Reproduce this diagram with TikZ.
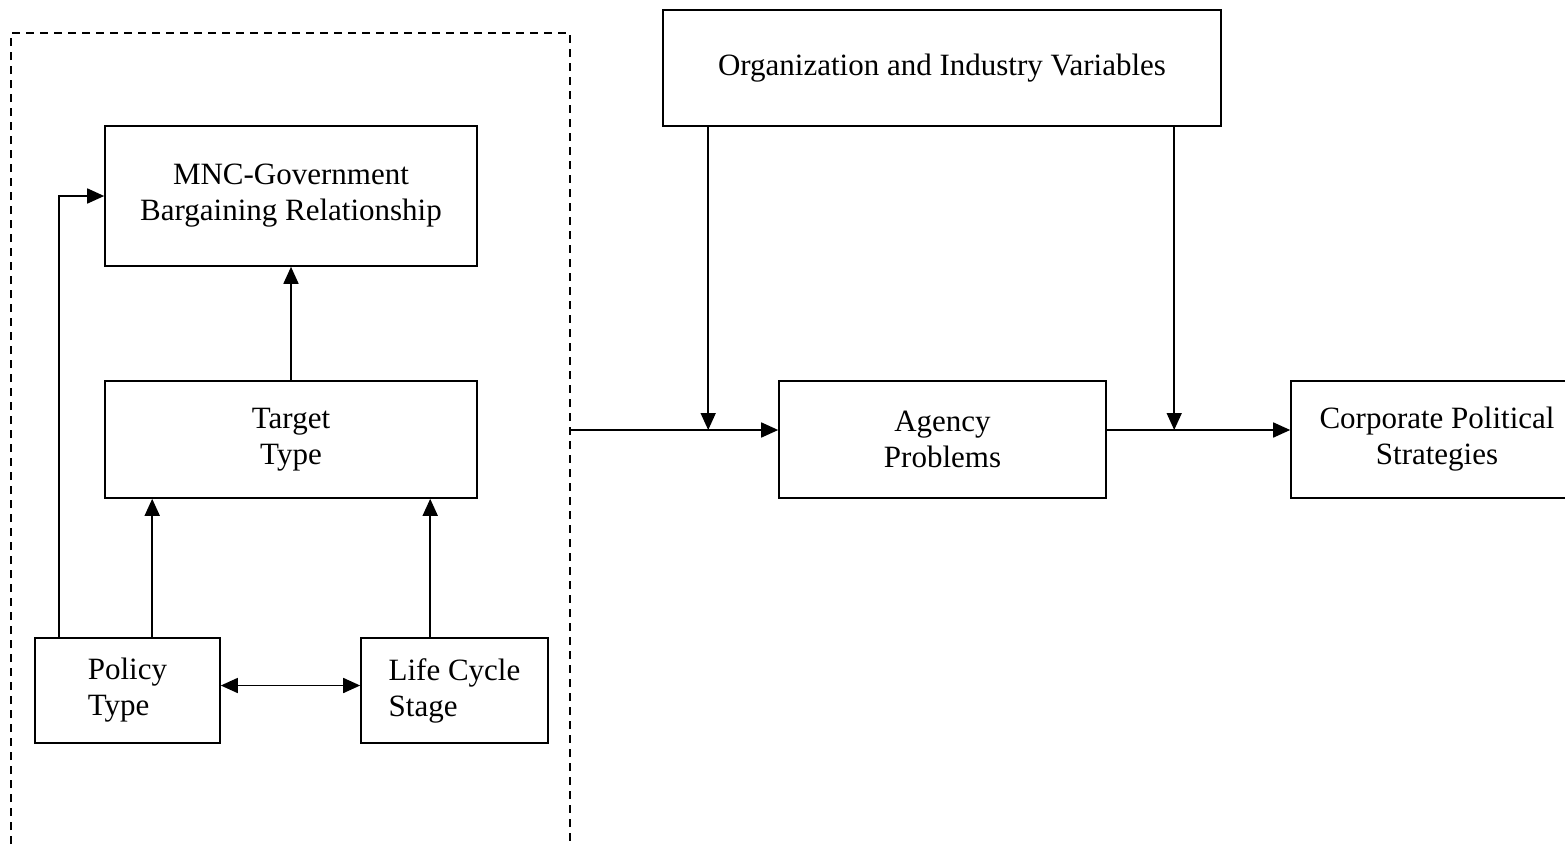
\documentclass[tikz,border=0pt]{standalone}
\usepackage{fontspec}
\setmainfont{Liberation Serif}
\usetikzlibrary{arrows.meta}
\begin{document}
\begin{tikzpicture}[x=1pt,y=-1pt,
  box/.style={draw,line width=1.6pt,inner sep=0pt,font=\fontsize{31}{36}\selectfont},
  arr/.style={line width=1.6pt,-{Triangle[length=17pt,width=15pt]}},
  dbl/.style={line width=1.6pt,{Triangle[length=17pt,width=15pt]}-{Triangle[length=17pt,width=15pt]}},
  dashbox/.style={draw,line width=1.4pt,dash pattern=on 8pt off 6pt}]
\useasboundingbox (0,0) rectangle (1565,846);
% dashed group
\draw[dashbox] (11,900) -- (11,33) -- (570,33) -- (570,900);
\node[box,minimum width=372,minimum height=140,align=center] (mnc) at (291,196) {MNC-Government\\Bargaining Relationship};
\node[box,minimum width=372,minimum height=117,align=center] (target) at (291,439.5) {Target\\Type};
\node[box,minimum width=185,minimum height=105,align=left] (policy) at (127.5,690.5) {Policy\\Type};
\node[box,minimum width=187,minimum height=105,align=left] (life) at (454.5,690.5) {Life Cycle\\Stage};
\node[box,minimum width=558,minimum height=116,align=center] (org) at (942,68) {\raisebox{4pt}{Organization and Industry Variables}};
\node[box,minimum width=327,minimum height=117,align=center] (agency) at (942.5,439.5) {Agency\\Problems};
\node[box,minimum width=292,minimum height=117,align=center] (corp) at (1437,439.5) {Corporate Political\\Strategies};
% connectors
\coordinate (h1) at (570,430);
\draw[arr] (h1) -- (h1 -| agency.west);
\draw[arr] (agency.east |- h1) -- (corp.west |- h1);
\coordinate (o1) at ([xshift=46pt]org.south west);
\coordinate (o2) at ([xshift=512pt]org.south west);
\draw[arr] (o1) -- (o1 |- h1);
\draw[arr] (o2) -- (o2 |- h1);
\coordinate (p1) at ([xshift=25pt]policy.north west);
\coordinate (p2) at ([xshift=118pt]policy.north west);
\coordinate (l1) at ([xshift=70pt]life.north west);
\draw[arr] (p1) |- (mnc.west);
\draw[arr] (p2) -- (p2 |- target.south);
\draw[arr] (l1) -- (l1 |- target.south);
\draw[arr] (target.north) -- (mnc.south);
\draw[dbl] ([yshift=5pt]policy.east) -- ([yshift=5pt]life.west);
\end{tikzpicture}
\end{document}
